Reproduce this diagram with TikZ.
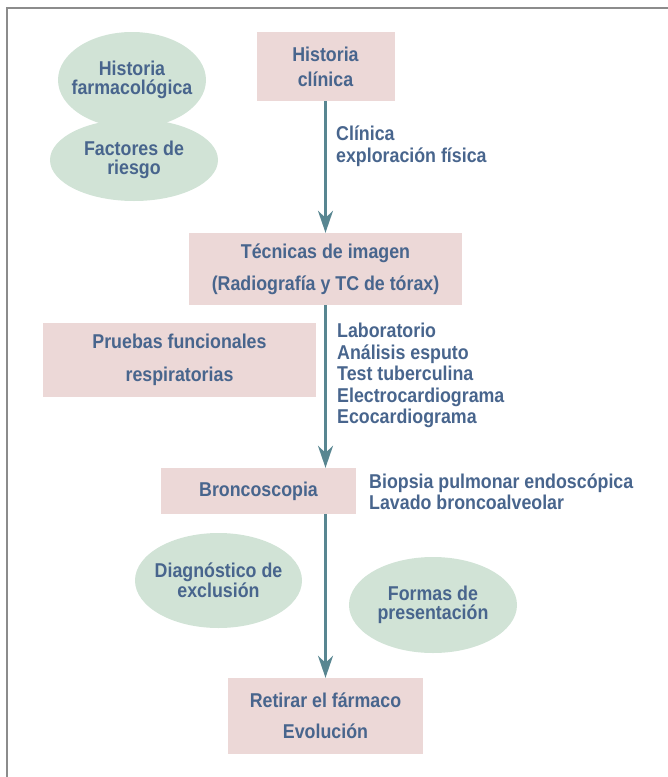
\documentclass[tikz,border=0pt]{standalone}
\usepackage{fontspec}
\usepackage{tikz}
\usetikzlibrary{arrows.meta,shapes.geometric,positioning}
\newfontfamily\cndfont{Liberation Sans}[FakeStretch=0.89]
\definecolor{boxpink}{RGB}{236,216,215}
\definecolor{ovalgreen}{RGB}{209,227,214}
\definecolor{textblue}{RGB}{72,101,141}
\definecolor{arrowteal}{RGB}{88,134,145}
\definecolor{framegray}{RGB}{140,140,140}

\begin{document}
\begin{tikzpicture}[x=1pt, y=-1pt,
    every node/.style = {font=\cndfont\bfseries\fontsize{20}{21.5}\selectfont, text=textblue},
    box/.style = {fill=boxpink, align=center, inner sep=0pt},
    oval/.style = {ellipse, fill=ovalgreen, align=center, inner xsep=-15pt, inner ysep=0pt, font=\cndfont\bfseries\fontsize{20}{18.5}\selectfont},
    note/.style = {align=left, inner sep=0pt, anchor=west},
    flow/.style = {-{Stealth[length=22pt, width=15pt, inset=7pt]}, draw=arrowteal, line width=2.2pt}]
    \useasboundingbox (0,0) rectangle (668,777);
    \draw[framegray, line width=2pt] (6.5,777) -- (6.5,7.5) -- (668,7.5);

    % main column
    \node[box, minimum width=138, minimum height=69] (hc) at (325.5,66.5) {Historia\\[3.5pt]clínica};
    \node[box, minimum width=273, minimum height=72] (ti) at (325.5,269) {Técnicas de imagen\\[10.5pt](Radiografía y TC de tórax)};
    \node[box, minimum width=195, minimum height=46] (br) at (258.5,491) {Broncoscopia};
    \node[box, minimum width=195, minimum height=76] (ret) at (325.5,716) {Retirar el fármaco\\[9.5pt]Evolución};
    \node[box, minimum width=273, minimum height=74] (pf) at (179.5,360) {Pruebas funcionales\\[11.5pt]respiratorias};

    % ovals
    \node[oval, minimum width=148, minimum height=96] (hf) at (132,80) {Historia\\farmacológica};
    \node[oval, minimum width=168, minimum height=82] (fr) at (134,160) {Factores de\\riesgo};
    \node[oval, minimum width=167, minimum height=95] (de) at (218.5,580.5) {Diagnóstico de\\exclusión};
    \node[oval, minimum width=168, minimum height=96] (fp) at (433,605) {Formas de\\presentación};

    % notes beside the arrows
    \node[note] (cl) at (336,146) {Clínica\\exploración física};
    \node[note] (lab) at (337,375.5) {Laboratorio\\Análisis esputo\\Test tuberculina\\Electrocardiograma\\Ecocardiograma};
    \node[note] (bio) at (369,492) {Biopsia pulmonar endoscópica\\Lavado broncoalveolar};

    \draw[flow] (hc) -- (ti);
    \draw[flow] (ti) -- (ti |- br.north);
    \draw[flow] (br.south -| ret) -- (ret);
\end{tikzpicture}
\end{document}
